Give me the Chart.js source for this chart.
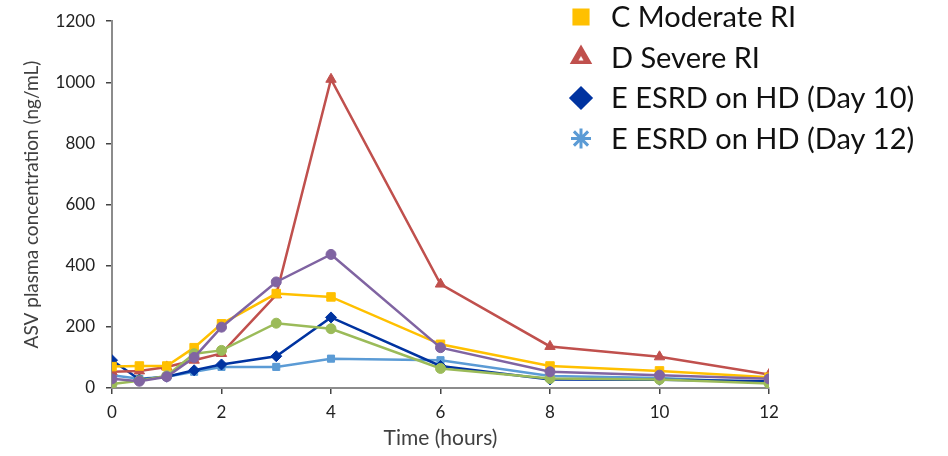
<!DOCTYPE html>
<html>
<head>
<meta charset="utf-8">
<script src="https://cdn.jsdelivr.net/npm/chart.js@4.4.1/dist/chart.umd.min.js"></script>
<style>
  html, body { margin: 0; padding: 0; background: #ffffff; }
  #wrap { width: 948px; height: 456px; position: relative; }
</style>
</head>
<body>
<div id="wrap"><canvas id="c" width="948" height="456"></canvas></div>
<script>
// Time points (hours)
const times = [0, 0.5, 1, 1.5, 2, 3, 4, 6, 8, 10, 12];
// Series values (ng/mL)
const groupA     = [30, 22, 37, 100, 199, 347, 437, 132, 53, 42, 30];
const groupB     = [13, 24, 40, 112, 123, 212, 194, 64, 31, 28, 15];
const moderateRI = [70, 72, 72, 132, 210, 309, 298, 143, 72, 56, 35];
const severeRI   = [53, 56, 69, 91, 113, 305, 1010, 340, 136, 102, 44];
const esrdDay10  = [91, 28, 37, 58, 77, 104, 231, 72, 28, 27, 22];
const esrdDay12  = [42, 30, 37, 53, 69, 69, 96, 91, 39, 33, 17];
// Labels
const seriesLabels = ['A', 'B', 'C Moderate RI', 'D Severe RI', 'E ESRD on HD (Day 10)', 'E ESRD on HD (Day 12)'];
const legendShown = [false, false, true, true, true, true];
const xTicks = [0, 2, 4, 6, 8, 10, 12];
const yTicks = [0, 200, 400, 600, 800, 1000, 1200];
const xTitle = 'Time (hours)';
const yTitle = 'ASV plasma concentration (ng/mL)';

const FONT = "Lato, 'Open Sans', 'Liberation Sans', sans-serif";

function pts(vals) { return times.map((t, i) => ({ x: t, y: vals[i] })); }

const styles = [
  { color: '#8064A2', point: 'circle', r: 5 },
  { color: '#9BBB59', point: 'circle', r: 5 },
  { color: '#FFC000', point: 'rect', r: 6 },
  { color: '#C0504D', point: 'triangle', r: 6 },
  { color: '#0033A0', point: 'rectRot', r: 5.5 },
  { color: '#5B9BD5', point: 'rect', r: 5 }
];
const seriesValues = [groupA, groupB, moderateRI, severeRI, esrdDay10, esrdDay12];

const datasets = seriesValues.map((vals, i) => ({
  label: seriesLabels[i],
  data: pts(vals),
  borderColor: styles[i].color,
  backgroundColor: styles[i].color,
  borderWidth: 2.5,
  pointStyle: styles[i].point,
  pointRadius: styles[i].r,
  pointBorderWidth: 1,
  showLine: true,
  tension: 0,
  fill: false
}));

const legendPlugin = {
  id: 'overlayLegend',
  afterDraw(chart) {
    const ctx = chart.ctx;
    const items = [];
    chart.data.datasets.forEach((ds, i) => { if (legendShown[i]) items.push(i); });
    const legendMarkers = ['rect', 'triangle', 'rectRot', 'star'];
    ctx.save();
    ctx.font = "29px " + FONT;
    ctx.textBaseline = 'middle';
    ctx.textAlign = 'left';
    items.forEach((di, k) => {
      const y = 17 + k * 40.5;
      const col = styles[di].color;
      ctx.fillStyle = col;
      ctx.strokeStyle = col;
      ctx.lineWidth = 3;
      const ps = legendMarkers[k];
      Chart.helpers.drawPoint(ctx, { pointStyle: ps, radius: 10, rotation: 0, borderWidth: ctx.lineWidth }, 581, y);
      if (ps === 'triangle') {
        ctx.fillStyle = '#ffffff';
        ctx.strokeStyle = '#ffffff';
        ctx.lineWidth = 0.5;
        Chart.helpers.drawPoint(ctx, { pointStyle: 'triangle', radius: 2.5, rotation: 0, borderWidth: 0.5 }, 581, y + 1.5);
      }
      ctx.fillStyle = '#111111';
      ctx.fillText(chart.data.datasets[di].label, 611, y + 1);
    });
    ctx.restore();
  }
};

new Chart(document.getElementById('c'), {
  type: 'scatter',
  data: { datasets },
  options: {
    responsive: false,
    animation: false,
    layout: { padding: { left: 20, right: 179, top: 18, bottom: 3 } },
    plugins: {
      legend: { display: false },
      tooltip: { enabled: false }
    },
    scales: {
      x: {
        type: 'linear',
        min: 0, max: 12,
        afterBuildTicks(scale) { scale.ticks = xTicks.map(v => ({ value: v })); },
        afterFit(scale) { scale.height = 65; },
        grid: { display: true, drawOnChartArea: false, drawTicks: true, tickLength: 6, color: '#444', tickColor: '#444', lineWidth: 1.5, tickWidth: 1.5 },
        border: { display: true, color: '#8c8c8c', width: 2 },
        ticks: { color: '#222', font: { family: FONT, size: 17 }, padding: 8, maxRotation: 0, callback: v => String(v) },
        title: { display: true, text: xTitle, color: '#404040', font: { family: FONT, size: 21 }, padding: { top: 0, bottom: 2 } }
      },
      y: {
        type: 'linear',
        min: 0, max: 1200,
        afterBuildTicks(scale) { scale.ticks = yTicks.map(v => ({ value: v })); },
        afterFit(scale) { scale.width = 92; },
        grid: { display: true, drawOnChartArea: false, drawTicks: true, tickLength: 6, color: '#444', tickColor: '#444', lineWidth: 1.5, tickWidth: 1.5 },
        border: { display: true, color: '#8c8c8c', width: 2 },
        ticks: { color: '#222', font: { family: FONT, size: 17 }, padding: 11, callback: v => String(v) },
        title: { display: true, text: yTitle, color: '#404040', font: { family: FONT, size: 19 }, padding: { top: 0, bottom: 0 } }
      }
    }
  },
  plugins: [legendPlugin]
});
</script>
</body>
</html>
